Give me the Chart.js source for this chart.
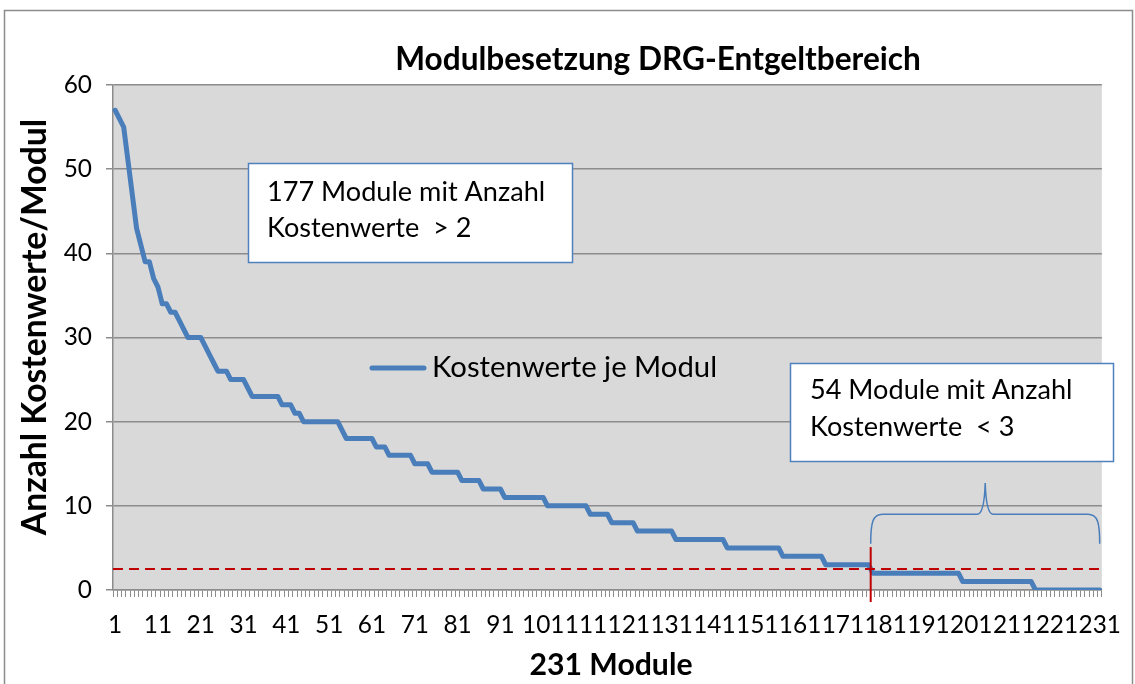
<!DOCTYPE html>
<html>
<head>
<meta charset="utf-8">
<script src="https://cdn.jsdelivr.net/npm/chart.js@4"></script>
<style>
  html, body { margin: 0; padding: 0; background: #fff; }
</style>
</head>
<body>
<canvas id="chart-module" width="1135" height="684"></canvas>
<script>
//--- data
// Anzahl Kostenwerte je Modul, absteigend sortiert (231 Module)
var kostenwerte = [
  57, 56, 55, 51, 47, 43, 41, 39, 39, 37,   // 1-10
  36, 34, 34, 33, 33, 32, 31, 30, 30, 30,   // 11-20
  30, 29, 28, 27, 26, 26, 26, 25, 25, 25,   // 21-30
  25, 24, 23, 23, 23, 23, 23, 23, 23, 22,   // 31-40
  22, 22, 21, 21, 20, 20, 20, 20, 20, 20,   // 41-50
  20, 20, 20, 19, 18, 18, 18, 18, 18, 18,   // 51-60
  18, 17, 17, 17, 16, 16, 16, 16, 16, 16,   // 61-70
  15, 15, 15, 15, 14, 14, 14, 14, 14, 14,   // 71-80
  14, 13, 13, 13, 13, 13, 12, 12, 12, 12,   // 81-90
  12, 11, 11, 11, 11, 11, 11, 11, 11, 11,   // 91-100
  11, 10, 10, 10, 10, 10, 10, 10, 10, 10,   // 101-110
  10,  9,  9,  9,  9,  9,  8,  8,  8,  8,   // 111-120
   8,  8,  7,  7,  7,  7,  7,  7,  7,  7,   // 121-130
   7,  6,  6,  6,  6,  6,  6,  6,  6,  6,   // 131-140
   6,  6,  6,  5,  5,  5,  5,  5,  5,  5,   // 141-150
   5,  5,  5,  5,  5,  5,  4,  4,  4,  4,   // 151-160
   4,  4,  4,  4,  4,  4,  3,  3,  3,  3,   // 161-170
   3,  3,  3,  3,  3,  3,  3,  2,  2,  2,   // 171-180
   2,  2,  2,  2,  2,  2,  2,  2,  2,  2,   // 181-190
   2,  2,  2,  2,  2,  2,  2,  2,  1,  1,   // 191-200
   1,  1,  1,  1,  1,  1,  1,  1,  1,  1,   // 201-210
   1,  1,  1,  1,  1,  0,  0,  0,  0,  0,   // 211-220
   0,  0,  0,  0,  0,  0,  0,  0,  0,  0,   // 221-230
   0                                        // 231
];
// module numbers 1..231 (categories)
var module = kostenwerte.map(function (v, i) { return String(i + 1); });
var xTickLabels = ['1', '11', '21', '31', '41', '51', '61', '71', '81', '91', '101', '111',
                   '121', '131', '141', '151', '161', '171', '181', '191', '201', '211', '221', '231'];
var yMin = 0, yMax = 60, yStep = 10;

var threshold = 2.5;   // red dashed line
var splitAt = 177;     // modules with more than 2 values

var titleText = 'Modulbesetzung DRG-Entgeltbereich';
var yTitle = 'Anzahl Kostenwerte/Modul';
var xTitle = '231 Module';
var seriesName = 'Kostenwerte je Modul';
var noteHigh = ['177 Module mit Anzahl', 'Kostenwerte  > 2'];
var noteLow = ['54 Module mit Anzahl', 'Kostenwerte  < 3'];

//--- font sizes fitted to the widths seen in the original
var FONT = 'Lato';
var meas = document.createElement('canvas').getContext('2d');
function fitSize(text, weight, width) {
  meas.font = weight + ' 100px ' + FONT;
  return Math.round(1000 * width / meas.measureText(text).width) / 10;
}
var tickSize = fitSize('101', 'normal', 42.5);
var titleSize = fitSize(titleText, 'bold', 526);
var yTitleSize = fitSize(yTitle, 'bold', 417);
var xTitleSize = fitSize(xTitle, 'bold', 163);
var legendSize = fitSize(seriesName, 'normal', 285);
var noteSize = fitSize(noteHigh[0], 'normal', 278);

var blue = '#4a7ebb';
var gridGray = '#8c8c8c';

function noteBox(c, x, y, w, h, lines, tx, ty, gap) {
  c.fillStyle = '#fff';
  c.fillRect(x, y, w, h);
  c.strokeStyle = '#4f81bd';
  c.lineWidth = 1.5;
  c.strokeRect(x, y, w, h);
  c.fillStyle = '#000';
  c.font = noteSize + 'px ' + FONT;
  c.textAlign = 'left';
  c.textBaseline = 'middle';
  lines.forEach(function (t, i) { c.fillText(t, tx, ty + i * gap); });
}

var decor = {
  id: 'decor',
  beforeDraw: function (chart) {
    var c = chart.ctx, a = chart.chartArea;
    c.save();
    c.fillStyle = '#fff';
    c.fillRect(0, 0, chart.width, chart.height);
    c.strokeStyle = gridGray;
    c.lineWidth = 1.5;
    c.strokeRect(4.5, 10.5, 1128, 700);
    c.fillStyle = '#d9d9d9';
    c.fillRect(a.left, a.top, a.right - a.left, a.bottom - a.top);
    c.restore();
  },
  afterDraw: function (chart) {
    var c = chart.ctx, a = chart.chartArea;
    var xs = chart.scales.x, ys = chart.scales.y;
    c.save();

    // threshold line
    var ty = ys.getPixelForValue(threshold);
    c.strokeStyle = '#c00000';
    c.lineWidth = 2;
    c.setLineDash([10, 6]);
    c.beginPath();
    c.moveTo(a.left, ty);
    c.lineTo(a.right + 2, ty);
    c.stroke();
    c.setLineDash([]);

    // split line between module 177 and 178
    var sx = (xs.getPixelForValue(splitAt - 1) + xs.getPixelForValue(splitAt)) / 2;
    c.beginPath();
    c.moveTo(sx, ys.getPixelForValue(5.1));
    c.lineTo(sx, a.bottom + 12);
    c.stroke();

    // curly brace over the low modules
    var bx0 = sx, bx1 = xs.getPixelForValue(kostenwerte.length - 1);
    var by = ys.getPixelForValue(9), tipY = ys.getPixelForValue(12.7), endY = ys.getPixelForValue(5.5);
    var mid = (bx0 + bx1) / 2;
    c.strokeStyle = blue;
    c.lineWidth = 1.5;
    c.beginPath();
    c.moveTo(bx0, endY);
    c.bezierCurveTo(bx0, by + 8, bx0 + 2, by, bx0 + 12, by);
    c.lineTo(mid - 8, by);
    c.quadraticCurveTo(mid - 1, by, mid, tipY);
    c.quadraticCurveTo(mid + 1, by, mid + 8, by);
    c.lineTo(bx1 - 12, by);
    c.bezierCurveTo(bx1 - 2, by, bx1, by + 8, bx1, endY);
    c.stroke();

    // text boxes
    noteBox(c, 248.5, 163.5, 324, 99, noteHigh, 267, 192, 36);
    noteBox(c, 790.5, 363.5, 323, 98, noteLow, 810, 390, 37);

    // legend
    c.strokeStyle = blue;
    c.lineWidth = 5;
    c.lineCap = 'round';
    c.beginPath();
    c.moveTo(372, 368);
    c.lineTo(424, 368);
    c.stroke();
    c.fillStyle = '#000';
    c.font = legendSize + 'px ' + FONT;
    c.textAlign = 'left';
    c.textBaseline = 'middle';
    c.fillText(seriesName, 432, 368);

    // titles
    c.textAlign = 'center';
    c.font = 'bold ' + titleSize + 'px ' + FONT;
    c.fillText(titleText, 658, 60);
    c.font = 'bold ' + xTitleSize + 'px ' + FONT;
    c.fillText(xTitle, 611, 665);
    c.translate(35, 327);
    c.rotate(-Math.PI / 2);
    c.font = 'bold ' + yTitleSize + 'px ' + FONT;
    c.fillText(yTitle, 0, 0);
    c.restore();
  }
};

var ctx = document.getElementById('chart-module').getContext('2d');
window.chartModule = new Chart(ctx, {
  type: 'line',
  data: {
    labels: module,
    datasets: [{
      label: seriesName,
      data: kostenwerte,
      borderColor: blue,
      backgroundColor: blue,
      borderWidth: 5,
      borderJoinStyle: 'round',
      borderCapStyle: 'round',
      pointRadius: 0,
      fill: false,
      tension: 0
    }]
  },
  options: {
    responsive: false,
    animation: false,
    layout: { padding: { top: 85, right: 29, left: 0, bottom: 0 } },
    plugins: {
      legend: { display: false },
      title: { display: false },
      tooltip: { enabled: false }
    },
    scales: {
      x: {
        type: 'category',
        offset: true,
        grid: { drawOnChartArea: false, drawTicks: true, tickLength: 7, offset: true, color: gridGray, lineWidth: 1 },
        border: { display: true, color: gridGray, width: 1.5 },
        ticks: {
          autoSkip: false, maxRotation: 0, minRotation: 0, padding: 14,
          color: '#000', font: { family: FONT, size: tickSize },
          callback: function (v) {
            var lab = this.getLabelForValue(v);
            return xTickLabels.indexOf(lab) >= 0 ? lab : '';
          }
        },
        afterFit: function (s) { s.height = 94; }
      },
      y: {
        min: yMin, max: yMax,
        grid: { color: gridGray, lineWidth: 1.5, tickLength: 7, drawTicks: true },
        border: { display: true, color: gridGray, width: 1.5 },
        ticks: { stepSize: yStep, padding: 14, color: '#000', font: { family: FONT, size: tickSize } },
        afterFit: function (s) { s.width = 113; }
      }
    }
  },
  plugins: [decor]
});
</script>
</body>
</html>
